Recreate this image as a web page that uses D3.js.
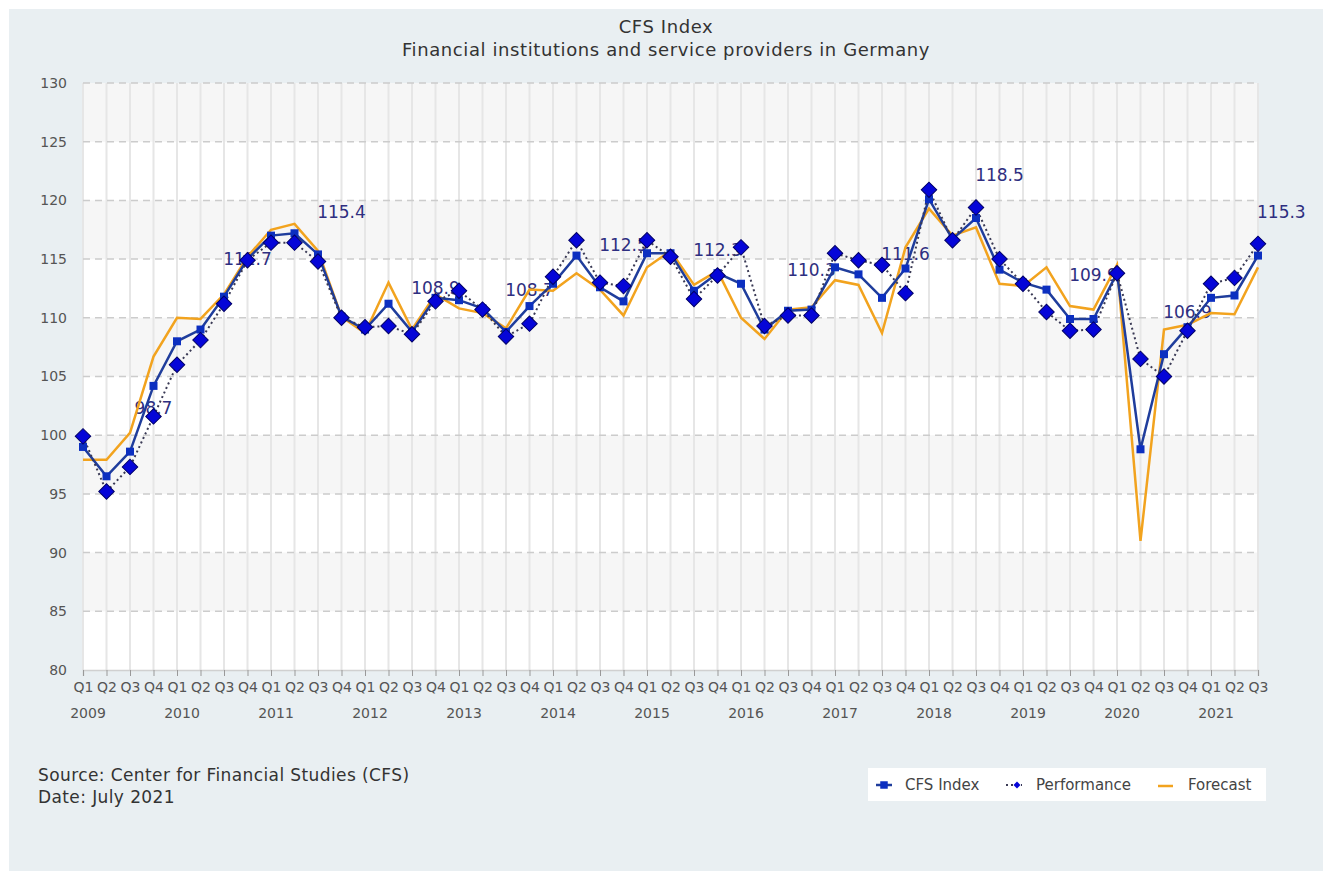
<!DOCTYPE html>
<html>
<head>
<meta charset="utf-8">
<script src="https://cdn.jsdelivr.net/npm/d3@7"></script>
<style>
  body { margin: 0; background: #fff; }
  text { font-family: "DejaVu Sans", sans-serif; }
</style>
</head>
<body>
<script>
// quarters Q1 2009 .. Q3 2021
const quarters = d3.range(51);
const years = ['2009','2010','2011','2012','2013','2014','2015','2016','2017','2018','2019','2020','2021'];
const yTicks = [80, 85, 90, 95, 100, 105, 110, 115, 120, 125, 130];

// CFS Index
const cfsIndex = [99.0, 96.5, 98.6, 104.2, 108.0, 109.0, 111.8, 115.0, 117.0, 117.2,
  115.4, 110.1, 109.0, 111.2, 108.8, 111.7, 111.5, 110.8, 108.8, 111.0,
  112.9, 115.3, 112.6, 111.4, 115.5, 115.5, 112.3, 113.8, 112.9, 109.0,
  110.6, 110.7, 114.3, 113.7, 111.7, 114.2, 120.1, 116.7, 118.5, 114.1,
  113.0, 112.4, 109.9, 109.9, 113.8, 98.8, 106.9, 109.2, 111.7, 111.9, 115.3];
// Performance
const performance = [99.9, 95.2, 97.3, 101.6, 106.0, 108.1, 111.2, 114.9, 116.4, 116.4,
  114.8, 110.0, 109.2, 109.3, 108.6, 111.4, 112.3, 110.7, 108.4, 109.5,
  113.5, 116.6, 113.0, 112.7, 116.6, 115.2, 111.6, 113.6, 116.0, 109.3,
  110.2, 110.2, 115.5, 114.9, 114.5, 112.1, 120.9, 116.6, 119.4, 115.0,
  112.9, 110.5, 108.9, 109.0, 113.8, 106.5, 105.0, 108.9, 112.9, 113.4, 116.3];
// Forecast
const forecast = [97.9, 97.9, 100.2, 106.7, 110.0, 109.9, 112.0, 115.2, 117.5, 118.0,
  115.7, 110.1, 108.7, 113.0, 109.0, 112.0, 110.8, 110.4, 109.1, 112.4,
  112.3, 113.8, 112.4, 110.2, 114.3, 115.7, 112.8, 114.0, 110.0, 108.2,
  110.7, 110.9, 113.2, 112.8, 108.7, 116.0, 119.3, 117.0, 117.7, 112.9,
  112.7, 114.3, 111.0, 110.7, 114.5, 91.0, 109.0, 109.4, 110.4, 110.3, 114.3];

// annotations: quarter index, text, value level where the label sits
const labelIdx = [3, 7, 11, 15, 19, 23, 27, 31, 35, 39, 43, 47, 50];
const labelText = ['98.7','111.7','115.4','108.9','108.7','112.5','112.3','110.3','111.6','118.5','109.9','106.9','115.3'];
const labelAt = [102.3, 115.0, 119.0, 112.5, 112.4, 116.2, 115.8, 114.1, 115.4, 122.2, 113.6, 110.5, 119.0];

const width = 1332;
const height = 877;
const plot = {left: 83, right: 1258, top: 83, bottom: 670};

const x = d3.scalePoint().domain(quarters).range([plot.left, plot.right]);
const y = d3.scaleLinear().domain([80, 130]).range([plot.bottom, plot.top]);

const svg = d3.select('body').append('svg')
    .attr('width', width)
    .attr('height', height);

// outer background
svg.append('rect')
    .attr('x', 9).attr('y', 9)
    .attr('width', 1314).attr('height', 862)
    .attr('fill', '#e9eff2');

// plot background with bands
svg.append('rect')
    .attr('x', plot.left).attr('y', plot.top)
    .attr('width', plot.right - plot.left).attr('height', plot.bottom - plot.top)
    .attr('fill', '#fff');

svg.selectAll('.band')
    .data([85, 95, 105, 115, 125])
    .enter()
    .append('rect')
    .attr('x', plot.left)
    .attr('y', d => y(d + 5))
    .attr('width', plot.right - plot.left)
    .attr('height', d => y(d) - y(d + 5))
    .attr('fill', '#f6f6f6');

// vertical grid
svg.selectAll('.vgrid')
    .data(quarters)
    .enter()
    .append('line')
    .attr('x1', d => x(d)).attr('x2', d => x(d))
    .attr('y1', plot.top).attr('y2', plot.bottom)
    .attr('stroke', '#e6e6e6')
    .attr('stroke-width', 2);

// horizontal grid
svg.selectAll('.hgrid')
    .data(yTicks.slice(1))
    .enter()
    .append('line')
    .attr('x1', plot.left).attr('x2', plot.right)
    .attr('y1', d => y(d)).attr('y2', d => y(d))
    .attr('stroke', '#cccccc')
    .attr('stroke-width', 1.5)
    .attr('stroke-dasharray', '7,5');

// y axis
const yAxis = svg.append('g')
    .attr('transform', 'translate(' + plot.left + ',0)')
    .call(d3.axisLeft(y).tickValues(yTicks).tickSize(0).tickPadding(16));
yAxis.select('.domain').remove();
yAxis.selectAll('text')
    .attr('fill', '#555')
    .style('font-size', '14px');

// x axis
const xAxis = svg.append('g')
    .attr('transform', 'translate(0,' + plot.bottom + ')')
    .call(d3.axisBottom(x).tickFormat(d => 'Q' + (d % 4 + 1)).tickSize(6).tickPadding(6));
xAxis.select('.domain').attr('stroke', '#d0d0d0').attr('stroke-width', 1.5);
xAxis.selectAll('.tick line').attr('stroke', '#999');
xAxis.selectAll('text')
    .attr('fill', '#555')
    .style('font-size', '14px');

svg.selectAll('.year')
    .data(years)
    .enter()
    .append('text')
    .attr('x', (d, i) => x(i * 4) + 5)
    .attr('y', 718)
    .attr('text-anchor', 'middle')
    .attr('fill', '#555')
    .style('font-size', '14px')
    .text(d => d);

// annotations
svg.selectAll('.ann')
    .data(labelIdx)
    .enter()
    .append('text')
    .attr('x', (d, i) => i === labelIdx.length - 1 ? x(d) - 1 : x(d))
    .attr('y', (d, i) => y(labelAt[i]))
    .attr('dy', '0.35em')
    .attr('text-anchor', (d, i) => i === labelIdx.length - 1 ? 'start' : 'middle')
    .attr('fill', '#2e2e80')
    .style('font-size', '17px')
    .text((d, i) => labelText[i]);

const line = d3.line()
    .x((d, i) => x(i))
    .y(d => y(d));

// forecast
svg.append('path')
    .datum(forecast)
    .attr('d', line)
    .attr('fill', 'none')
    .attr('stroke', '#f2a31e')
    .attr('stroke-width', 2.5);

// cfs index
svg.append('path')
    .datum(cfsIndex)
    .attr('d', line)
    .attr('fill', 'none')
    .attr('stroke', '#1f3d9c')
    .attr('stroke-width', 2.5);

// performance
svg.append('path')
    .datum(performance)
    .attr('d', line)
    .attr('fill', 'none')
    .attr('stroke', '#3a3a55')
    .attr('stroke-width', 2)
    .attr('stroke-dasharray', '2,3');

svg.selectAll('.sq')
    .data(cfsIndex)
    .enter()
    .append('path')
    .attr('d', d3.symbol(d3.symbolSquare, 64))
    .attr('transform', (d, i) => 'translate(' + x(i) + ',' + y(d) + ')')
    .attr('fill', '#0c2fc0');

svg.selectAll('.dia')
    .data(performance)
    .enter()
    .append('path')
    .attr('d', d3.symbol(d3.symbolSquare, 120))
    .attr('transform', (d, i) => 'translate(' + x(i) + ',' + y(d) + ') rotate(45)')
    .attr('fill', '#0505d8')
    .attr('stroke', '#000066')
    .attr('stroke-width', 1);

// title
svg.append('text')
    .attr('x', width / 2).attr('y', 33)
    .attr('text-anchor', 'middle')
    .attr('fill', '#333')
    .style('font-size', '18px')
    .style('letter-spacing', '0.6px')
    .text('CFS Index');
svg.append('text')
    .attr('x', width / 2).attr('y', 56)
    .attr('text-anchor', 'middle')
    .attr('fill', '#333')
    .style('font-size', '18px')
    .style('letter-spacing', '0.6px')
    .text('Financial institutions and service providers in Germany');

// source
svg.append('text')
    .attr('x', 38).attr('y', 781)
    .attr('fill', '#333')
    .style('font-size', '17px')
    .style('letter-spacing', '0.4px')
    .text('Source: Center for Financial Studies (CFS)');
svg.append('text')
    .attr('x', 38).attr('y', 803)
    .attr('fill', '#333')
    .style('font-size', '17px')
    .style('letter-spacing', '0.4px')
    .text('Date: July 2021');

// legend
const legend = svg.append('g').attr('transform', 'translate(868,768)');
legend.append('rect')
    .attr('width', 398).attr('height', 33)
    .attr('fill', '#fff');
legend.append('line')
    .attr('x1', 8).attr('x2', 24).attr('y1', 17).attr('y2', 17)
    .attr('stroke', '#1f3d9c').attr('stroke-width', 2.5);
legend.append('path')
    .attr('d', d3.symbol(d3.symbolSquare, 56))
    .attr('transform', 'translate(16,17)')
    .attr('fill', '#0c2fc0');
legend.append('text')
    .attr('x', 37).attr('y', 22)
    .attr('fill', '#444').style('font-size', '15px')
    .text('CFS Index');
legend.append('line')
    .attr('x1', 138).attr('x2', 154).attr('y1', 17).attr('y2', 17)
    .attr('stroke', '#3a3a55').attr('stroke-width', 2)
    .attr('stroke-dasharray', '2,3');
legend.append('path')
    .attr('d', d3.symbol(d3.symbolSquare, 24))
    .attr('transform', 'translate(149,17) rotate(45)')
    .attr('fill', '#0505d8');
legend.append('text')
    .attr('x', 168).attr('y', 22)
    .attr('fill', '#444').style('font-size', '15px')
    .text('Performance');
legend.append('line')
    .attr('x1', 290).attr('x2', 305).attr('y1', 18).attr('y2', 18)
    .attr('stroke', '#f2a31e').attr('stroke-width', 2.5);
legend.append('text')
    .attr('x', 320).attr('y', 22)
    .attr('fill', '#444').style('font-size', '15px')
    .text('Forecast');
</script>
</body>
</html>
